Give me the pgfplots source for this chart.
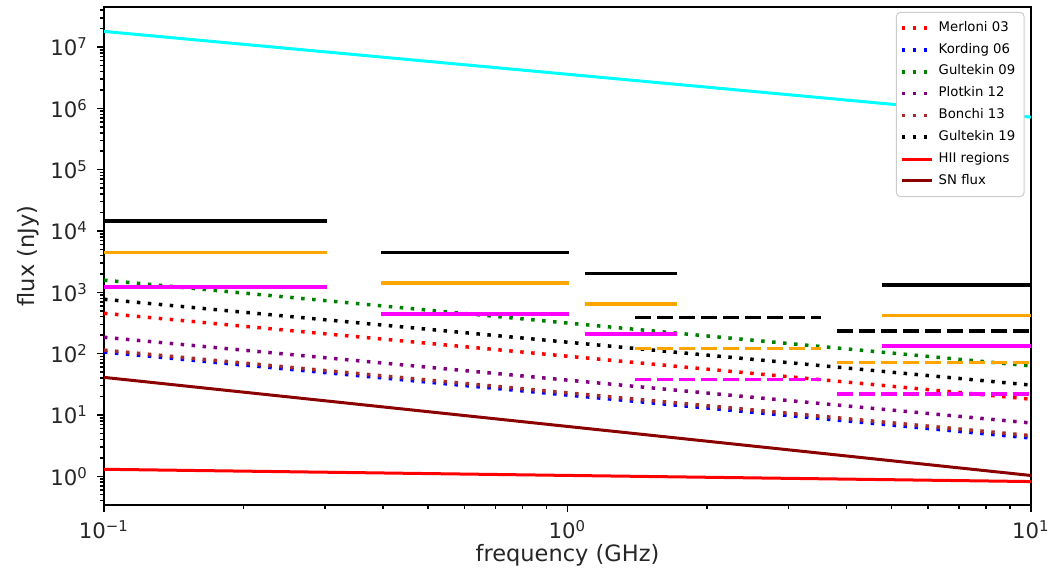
\documentclass[border=0pt]{standalone}
\usepackage{fontspec}
\setmainfont{DejaVu Sans}
\usepackage{pgfplots}
\pgfplotsset{compat=1.18}
\usetikzlibrary{calc}
\definecolor{mplgreen}{RGB}{0,128,0}
\definecolor{mplpurple}{RGB}{128,0,128}
\definecolor{mplbrown}{RGB}{165,42,42}
\definecolor{mplorange}{RGB}{255,165,0}
\definecolor{mpldarkred}{RGB}{139,0,0}
\definecolor{mplcyan}{RGB}{0,255,255}
\definecolor{mplmagenta}{RGB}{255,0,255}
\definecolor{mplred}{RGB}{255,0,0}
\definecolor{mplblue}{RGB}{0,0,255}
\tikzset{
  dotl/.style={line width=1.4pt, line cap=butt, dash pattern=on 1.4pt off 3pt},
  seg/.style={line width=1.4pt, line cap=butt},
  dseg/.style={line width=1.4pt, line cap=butt, dash pattern=on 6.4pt off 2.4pt},
}
\begin{document}
\begin{tikzpicture}
\begin{axis}[
  scale only axis, width=370.8pt, height=199.2pt,
  xmode=log, ymode=log,
  xmin=0.1, xmax=10, ymin=0.34, ymax=4.5e7,
  axis line style={line width=0.8pt},
  tick align=outside, tick pos=left,
  major tick length=2.8pt, minor tick length=1.6pt,
  every tick/.style={black, line width=0.6pt},
  xtick={0.1,1,10},
  xticklabels={10\textsuperscript{−1},10\textsuperscript{0},10\textsuperscript{1}},
  minor xtick={0.2,0.3,0.4,0.5,0.6,0.7,0.8,0.9,2,3,4,5,6,7,8,9},
  ytick={1,10,100,1000,10000,100000,1000000,10000000},
  yticklabels={10\textsuperscript{0},10\textsuperscript{1},10\textsuperscript{2},10\textsuperscript{3},10\textsuperscript{4},10\textsuperscript{5},10\textsuperscript{6},10\textsuperscript{7}},
  minor ytick={0.4,0.5,0.6,0.7,0.8,0.9,2,3,4,5,6,7,8,9,20,30,40,50,60,70,80,90,200,300,400,500,600,700,800,900,2000,3000,4000,5000,6000,7000,8000,9000,20000,30000,40000,50000,60000,70000,80000,90000,200000,300000,400000,500000,600000,700000,800000,900000,2000000,3000000,4000000,5000000,6000000,7000000,8000000,9000000,20000000,30000000,40000000},
  ticklabel style={font=\fontsize{8.5}{10}\selectfont, text=black!85},
  xlabel={frequency (GHz)}, ylabel={flux (nJy)},
  label style={font=\fontsize{9}{10}\selectfont, text=black!85},
  xlabel style={at={(axis description cs:0.5,-0.1)}, anchor=center},
  ylabel style={at={(axis description cs:-0.082,0.5)}, anchor=center},
  legend style={at={(rel axis cs:0.993,0.99)}, anchor=north east,
    draw=black!20, rounded corners=1.5pt, fill=white,
    font=\fontsize{5.3}{6}\selectfont, row sep=-0.8pt, inner sep=1.5pt},
  legend cell align=left,
  legend image code/.code={\draw[#1] (0pt,0pt) -- (12pt,0pt);},
  clip=true,
]
% power-law models (legend entries)
\addplot[mplred, dotl] coordinates {(0.1,455) (10,18.1)};
\addlegendentry{Merloni 03}
\addplot[mplblue, dotl] coordinates {(0.1,106) (10,4.2)};
\addlegendentry{Kording 06}
\addplot[mplgreen, dotl] coordinates {(0.1,1580) (10,63)};
\addlegendentry{Gultekin 09}
\addplot[mplpurple, dotl] coordinates {(0.1,185) (10,7.4)};
\addlegendentry{Plotkin 12}
\addplot[mplbrown, dotl] coordinates {(0.1,114) (10,4.6)};
\addlegendentry{Bonchi 13}
\addplot[black, dotl] coordinates {(0.1,770) (10,30.7)};
\addlegendentry{Gultekin 19}
\addplot[mplred, line width=1.2pt] coordinates {(0.1,1.3) (10,0.82)};
\addlegendentry{HII regions}
\addplot[mpldarkred, line width=1.2pt] coordinates {(0.1,41) (10,1.03)};
\addlegendentry{SN flux}
% cyan line
\addplot[mplcyan, line width=1.2pt, forget plot] coordinates {(0.1,1.8e7) (10,7.2e5)};
% solid sensitivity segments
\addplot[black, seg, forget plot] coordinates {(0.1,14500) (0.303,14500)};
\addplot[mplorange, seg, forget plot] coordinates {(0.1,4500) (0.303,4500)};
\addplot[mplmagenta, seg, forget plot] coordinates {(0.1,1210) (0.303,1210)};
\addplot[black, seg, forget plot] coordinates {(0.396,4500) (1.01,4500)};
\addplot[mplorange, seg, forget plot] coordinates {(0.396,1410) (1.01,1410)};
\addplot[mplmagenta, seg, forget plot] coordinates {(0.396,440) (1.01,440)};
\addplot[black, seg, forget plot] coordinates {(1.09,2040) (1.72,2040)};
\addplot[mplorange, seg, forget plot] coordinates {(1.09,640) (1.72,640)};
\addplot[mplmagenta, seg, forget plot] coordinates {(1.09,208) (1.72,208)};
\addplot[black, seg, forget plot] coordinates {(4.77,1310) (10,1310)};
\addplot[mplorange, seg, forget plot] coordinates {(4.77,422) (10,422)};
\addplot[mplmagenta, seg, forget plot] coordinates {(4.77,132) (10,132)};
% dashed sensitivity segments
\addplot[black, dseg, forget plot] coordinates {(1.40,390) (3.52,390)};
\addplot[mplorange, dseg, forget plot] coordinates {(1.40,122) (3.52,122)};
\addplot[mplmagenta, dseg, forget plot] coordinates {(1.40,38) (3.52,38)};
\addplot[black, dseg, forget plot] coordinates {(3.81,233) (10,233)};
\addplot[mplorange, dseg, forget plot] coordinates {(3.81,72) (10,72)};
\addplot[mplmagenta, dseg, forget plot] coordinates {(3.81,22) (10,22)};
\end{axis}
\pgfresetboundingbox
\path[use as bounding box] ($(current axis.south west)+(-41.6pt,-26.4pt)$) rectangle ($(current axis.north east)+(8pt,2.8pt)$);
\end{tikzpicture}
\end{document}
